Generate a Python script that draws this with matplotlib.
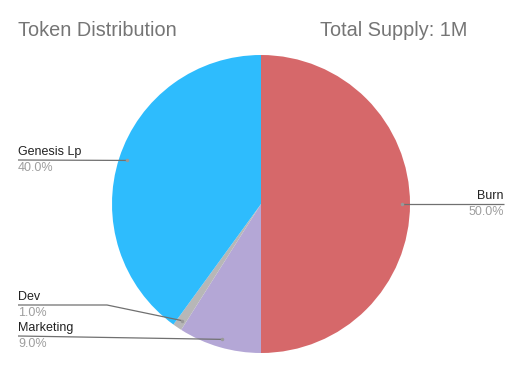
import numpy as np
import matplotlib
matplotlib.use("Agg")
import matplotlib.pyplot as plt

plt.rcParams['font.family'] = ['Liberation Sans', 'DejaVu Sans']

# Data
labels = ["Burn", "Marketing", "Dev", "Genesis Lp"]
values = [50.0, 9.0, 1.0, 40.0]
colors = ["#d6686a", "#b4a7d6", "#b7b7b7", "#2ebcfd"]

W, H = 522, 371
fig = plt.figure(figsize=(W / 100, H / 100), dpi=100)
ax = fig.add_axes([0, 0, 1, 1])

cx, cy, r = 261, H - 204, 149
wedges, _ = ax.pie(values, colors=colors, startangle=90, counterclock=False,
                   center=(cx, cy), radius=r, frame=True,
                   wedgeprops=dict(linewidth=0))
ax.set_xlim(0, W)
ax.set_ylim(0, H)
ax.set_aspect("equal")
ax.axis("off")

# label anchor positions (pixels from top-left): text x, line y, elbow x
label_pos = {
    "Burn": (504, 204, None),
    "Marketing": (18, 336, None),
    "Dev": (18, 305, 107),
    "Genesis Lp": (18, 160, None),
}

line_c = "#707070"
for w, lab, v in zip(wedges, labels, values):
    mid = np.deg2rad((w.theta1 + w.theta2) / 2)
    px = cx + 0.946 * r * np.cos(mid)
    py = cy + 0.946 * r * np.sin(mid)
    tx, ly, ex = label_pos[lab]
    ly = H - ly
    if lab == "Burn":
        xs, ys = [px, tx], [py, ly]
        ha = "right"
    else:
        if ex is None:
            xs, ys = [tx, px], [ly, py]
        else:
            xs, ys = [tx, ex, px], [ly, ly, py]
        ha = "left"
    ax.plot(xs, ys, color=line_c, lw=0.9, solid_capstyle="butt")
    ax.plot([px], [py], "o", color="#999999", ms=2.5, mec="none")
    ax.text(tx, ly + 2, lab, ha=ha, va="bottom", fontsize=9, color="#222222")
    ax.text(tx, ly - 2, f"{v:.1f}%", ha=ha, va="top", fontsize=9, color="#9e9e9e")

fig.text(18 / W, 1 - 31 / H, "Token Distribution", ha="left", va="center",
         fontsize=14.3, color="#757575")
fig.text(320 / W, 1 - 31 / H, "Total Supply: 1M", ha="left", va="center",
         fontsize=14.3, color="#757575")

fig.savefig("out.png", dpi=100, facecolor="white")
